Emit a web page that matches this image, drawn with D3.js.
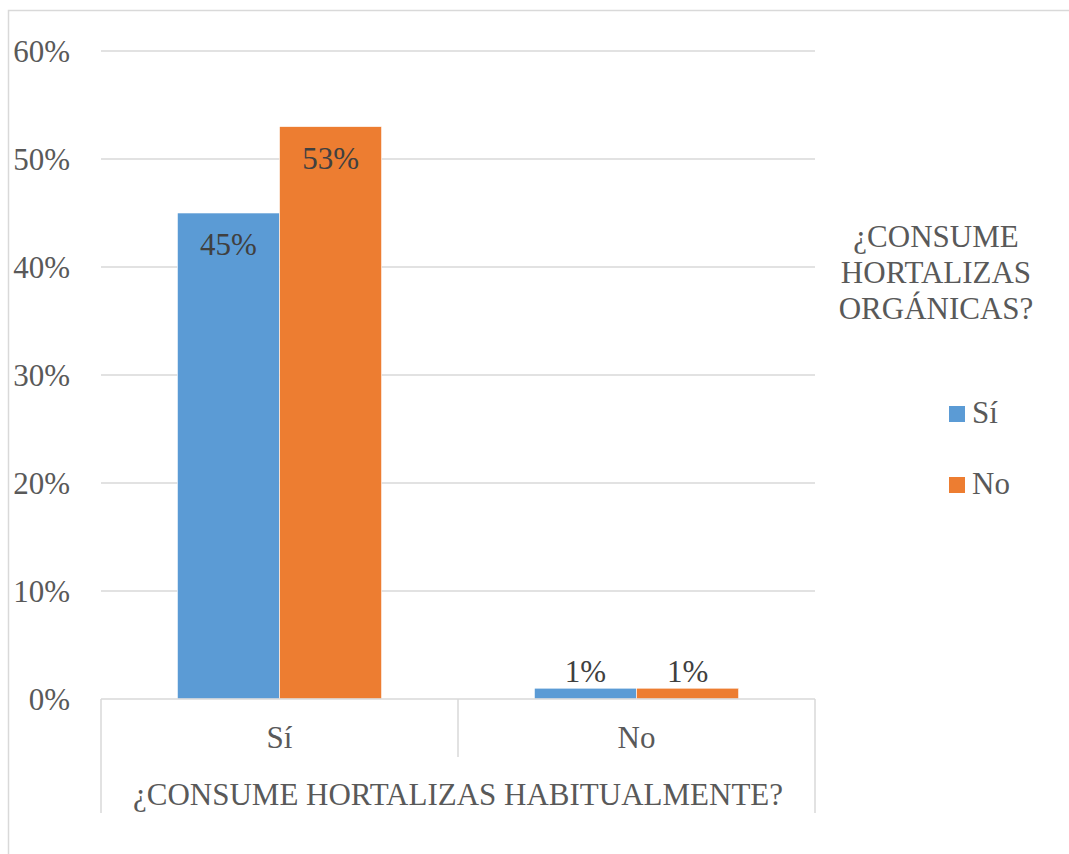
<!DOCTYPE html>
<html><head><meta charset="utf-8">
<script src="https://cdn.jsdelivr.net/npm/d3@7"></script>
<style>html,body{margin:0;padding:0;background:#fff;}</style>
</head><body>
<svg id="chart" width="1069" height="854"></svg>
<script>
const categories = ["Sí", "No"];
const seriesNames = ["Sí", "No"];
const seriesSi = [45, 1];
const seriesNo = [53, 1];
const yTicks = [0, 10, 20, 30, 40, 50, 60];
const xTitle = "¿CONSUME HORTALIZAS HABITUALMENTE?";
const legendTitle = ["¿CONSUME", "HORTALIZAS", "ORGÁNICAS?"];
const colors = ["#5B9BD5", "#ED7D31"];

const svg = d3.select("#chart");
const textColor = "#595959";
const fs = 31;
function styleText(sel, color) {
  return sel.style("font-family", d => '"Times New Roman"')
    .attr("font-size", fs)
    .attr("fill", color || textColor);
}

svg.append("rect").attr("x", 8.5).attr("y", 10.5).attr("width", 1100).attr("height", 900)
  .attr("fill", "none").attr("stroke", "#d9d9d9").attr("stroke-width", 1.5);

const pLeft = 101, pRight = 815, pTop = 51, pBottom = 699;
const y = d3.scaleLinear().domain([0, 60]).range([pBottom, pTop]);
const x0 = d3.scaleBand().domain(categories).range([pLeft, pRight]);
const groupW = x0.bandwidth() * 0.572;
const x1 = d3.scaleBand().domain(seriesNames).range([0, groupW]);
const groupOffset = (x0.bandwidth() - groupW) / 2;

svg.append("g").selectAll("line").data(yTicks.filter(d => d > 0)).join("line")
  .attr("x1", pLeft).attr("x2", pRight)
  .attr("y1", d => y(d)).attr("y2", d => y(d))
  .attr("stroke", "#d9d9d9").attr("stroke-width", 1.5);

styleText(svg.append("g").selectAll("text").data(yTicks).join("text")
  .attr("x", 70).attr("y", d => y(d) + 11)
  .attr("text-anchor", "end"))
  .text(d => d + "%");

const data = categories.map((c, i) => ({ cat: c, vals: [seriesSi[i], seriesNo[i]] }));
const groups = svg.append("g").selectAll("g").data(data).join("g")
  .attr("transform", d => `translate(${x0(d.cat) + groupOffset},0)`);
groups.selectAll("rect").data(d => d.vals.map((v, j) => ({ v, s: seriesNames[j], j }))).join("rect")
  .attr("x", d => x1(d.s)).attr("width", x1.bandwidth())
  .attr("y", d => y(d.v)).attr("height", d => pBottom - y(d.v))
  .attr("fill", d => colors[d.j]).attr("stroke", "#fff").attr("stroke-width", 0.6);

styleText(groups.selectAll("text").data(d => d.vals.map((v, j) => ({ v, s: seriesNames[j], j }))).join("text")
  .attr("x", d => x1(d.s) + x1.bandwidth() / 2)
  .attr("y", d => d.v > 5 ? y(d.v) + 42 : y(d.v) - 6)
  .attr("text-anchor", "middle"), "#404040")
  .text(d => d.v + "%");

const axisG = svg.append("g").attr("stroke", "#d9d9d9").attr("stroke-width", 1.5);
axisG.append("line").attr("x1", pLeft).attr("x2", pRight).attr("y1", pBottom).attr("y2", pBottom);
axisG.append("line").attr("x1", pLeft).attr("x2", pLeft).attr("y1", pBottom).attr("y2", 813);
axisG.append("line").attr("x1", pRight).attr("x2", pRight).attr("y1", pBottom).attr("y2", 813);
axisG.append("line").attr("x1", x0("No")).attr("x2", x0("No")).attr("y1", pBottom).attr("y2", 757);

styleText(svg.append("g").selectAll("text").data(categories).join("text")
  .attr("x", d => x0(d) + x0.bandwidth() / 2).attr("y", 748)
  .attr("text-anchor", "middle"))
  .text(d => d);

styleText(svg.append("text").datum(xTitle).attr("x", (pLeft + pRight) / 2).attr("y", 805)
  .attr("text-anchor", "middle"))
  .text(d => d);

styleText(svg.append("g").selectAll("text").data(legendTitle).join("text")
  .attr("x", 936).attr("y", (d, i) => 247 + i * 36)
  .attr("text-anchor", "middle"))
  .text(d => d);

const leg = svg.append("g").selectAll("g").data(seriesNames).join("g")
  .attr("transform", (d, i) => `translate(949,${406 + i * 71})`);
leg.append("rect").attr("width", 16).attr("height", 16).attr("fill", (d, i) => colors[i]);
styleText(leg.append("text").attr("x", 23).attr("y", 17))
  .text(d => d);
</script>
</body></html>
